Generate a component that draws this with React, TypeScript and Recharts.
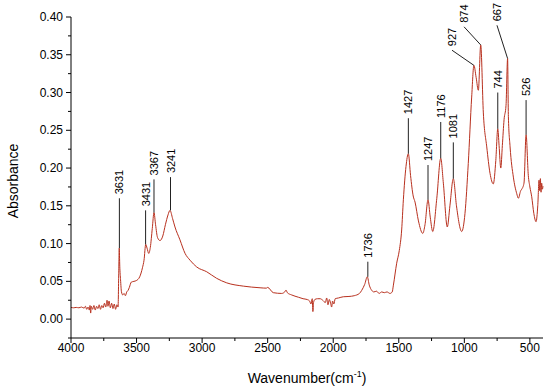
import React from 'react'
import { LineChart, Line, XAxis, YAxis, ReferenceLine, ReferenceDot, Label } from 'recharts'

// spectrum (wavenumber, absorbance)
const wavenumbers = [
  4000, 3980, 3960, 3940, 3920, 3900, 3890, 3880, 3870, 3860, 3855, 3850, 3845, 3835, 3825, 3815,
  3805, 3795, 3785, 3775, 3765, 3755, 3745, 3735, 3725, 3718, 3710, 3700, 3690, 3680, 3670, 3660,
  3650, 3641, 3636, 3632, 3628, 3622, 3615, 3605, 3595, 3585, 3575, 3565, 3555, 3540, 3520, 3502,
  3476, 3455, 3443, 3430, 3420, 3407, 3395, 3380, 3367, 3355, 3340, 3321, 3300, 3280, 3260, 3245,
  3225, 3207, 3169, 3130, 3092, 3041, 2965, 2889, 2812, 2686, 2558, 2510, 2500, 2457, 2393, 2370,
  2360, 2350, 2317, 2266, 2230, 2200, 2180, 2170, 2160, 2155, 2150, 2140, 2120, 2100, 2080, 2060,
  2050, 2040, 2030, 2020, 2012, 2005, 1995, 1985, 1960, 1923, 1880, 1840, 1800, 1783, 1760, 1740,
  1725, 1706, 1690, 1670, 1650, 1630, 1610, 1590, 1567, 1550, 1541, 1516, 1496, 1478, 1465, 1445,
  1427, 1410, 1390, 1376, 1350, 1317, 1300, 1277, 1260, 1241, 1210, 1180, 1160, 1130, 1110, 1084,
  1060, 1020, 995, 970, 944, 927, 910, 893, 875, 855, 829, 804, 779, 760, 745, 735,
  722, 710, 697, 682, 670, 664, 651, 626, 600, 588, 570, 562, 545, 529, 512, 500,
  486, 470, 453, 440, 430, 425, 420, 415, 410, 405, 400,
]
const absorbance = [
  0.0155, 0.015, 0.0155, 0.015, 0.016, 0.0145, 0.017, 0.013, 0.016, 0.012, 0.018, 0.008, 0.017, 0.013, 0.018, 0.012,
  0.017, 0.014, 0.019, 0.013, 0.018, 0.015, 0.021, 0.016, 0.025, 0.017, 0.024, 0.015, 0.021, 0.014, 0.02, 0.013,
  0.019, 0.016, 0.06, 0.094, 0.07, 0.052, 0.036, 0.032, 0.034, 0.031, 0.036, 0.038, 0.042, 0.049, 0.05, 0.051,
  0.056, 0.068, 0.078, 0.099, 0.094, 0.087, 0.095, 0.12, 0.141, 0.125, 0.108, 0.104, 0.11, 0.125, 0.138, 0.144,
  0.133, 0.122, 0.105, 0.087, 0.078, 0.069, 0.0627, 0.054, 0.048, 0.0437, 0.0415, 0.041, 0.042, 0.035, 0.034, 0.036,
  0.0384, 0.035, 0.032, 0.029, 0.027, 0.026, 0.024, 0.02, 0.027, 0.01, 0.022, 0.026, 0.027, 0.027, 0.025, 0.022,
  0.028, 0.019, 0.026, 0.021, 0.016, 0.024, 0.02, 0.027, 0.028, 0.0296, 0.03, 0.031, 0.034, 0.038, 0.046, 0.056,
  0.045, 0.038, 0.036, 0.037, 0.034, 0.036, 0.035, 0.036, 0.034, 0.036, 0.045, 0.074, 0.091, 0.118, 0.158, 0.202,
  0.219, 0.19, 0.163, 0.155, 0.13, 0.1135, 0.125, 0.158, 0.135, 0.116, 0.16, 0.213, 0.18, 0.122, 0.15, 0.186,
  0.15, 0.116, 0.14, 0.206, 0.294, 0.336, 0.32, 0.303, 0.363, 0.273, 0.228, 0.193, 0.179, 0.21, 0.252, 0.23,
  0.2, 0.23, 0.264, 0.283, 0.345, 0.268, 0.228, 0.188, 0.166, 0.16, 0.17, 0.172, 0.18, 0.244, 0.19, 0.175,
  0.162, 0.14, 0.129, 0.15, 0.184, 0.17, 0.186, 0.168, 0.18, 0.172, 0.176,
]

// peak annotations
const peakLabels = ['3631', '3431', '3367', '3241', '1736', '1427', '1247', '1176', '1081', '927', '874', '744', '667', '526']
const peakX = [3631, 3431, 3367, 3241, 1736, 1427, 1277, 1180, 1084, 927, 875, 745, 670, 529]
const peakY = [0.094, 0.099, 0.141, 0.144, 0.056, 0.219, 0.158, 0.213, 0.186, 0.336, 0.363, 0.252, 0.345, 0.244]
const labelX = [3631, 3431, 3367, 3241, 1736, 1427, 1277, 1180, 1084, 1094, 1002, 745, 751, 529]
const labelY = [0.16, 0.144, 0.185, 0.188, 0.076, 0.266, 0.204, 0.261, 0.234, 0.356, 0.387, 0.3, 0.389, 0.29]

const xTicks = [4000, 3750, 3500, 3250, 3000, 2750, 2500, 2250, 2000, 1750, 1500, 1250, 1000, 750, 500]
const yTicks = [-0.025, 0, 0.025, 0.05, 0.075, 0.1, 0.125, 0.15, 0.175, 0.2, 0.225, 0.25, 0.275, 0.3, 0.325, 0.35, 0.375, 0.4]

const data = wavenumbers.map((w, i) => ({ w, a: absorbance[i] }))
const FONT = 'Arial, "Liberation Sans", sans-serif'

function XTick(props: any) {
  const { x, y, payload } = props
  const major = payload.value % 500 === 0
  return (
    <g>
      <line x1={x} y1={y} x2={x} y2={y + (major ? 5 : 3)} stroke="#000" />
      {major && (
        <text x={x} y={y + 14} textAnchor="middle" fontSize={12} fontFamily={FONT} fill="#000">
          {payload.value}
        </text>
      )}
    </g>
  )
}

function YTick(props: any) {
  const { x, y, payload } = props
  const v = Math.round(payload.value * 1000)
  const major = v >= 0 && v % 50 === 0
  return (
    <g>
      <line x1={x} y1={y} x2={x - (major ? 5 : 3)} y2={y} stroke="#000" />
      {major && (
        <text x={x - 8} y={y + 4} textAnchor="end" fontSize={12} fontFamily={FONT} fill="#000">
          {payload.value.toFixed(2)}
        </text>
      )}
    </g>
  )
}

export default function App() {
  return (
    <div style={{ position: 'absolute', left: 0, top: 0, background: '#fff' }}>
      <LineChart width={550} height={390} data={data} margin={{ top: 17, right: 7, left: 0, bottom: 0 }}>
        <XAxis
          dataKey="w"
          type="number"
          domain={[400, 4000]}
          reversed
          ticks={xTicks}
          interval={0}
          tick={<XTick />}
          tickLine={false}
          tickSize={0}
          tickMargin={0}
          height={52}
          axisLine={{ stroke: '#000' }}
        >
          <Label
            content={(p: any) => {
              const vb = p.viewBox
              return (
                <text x={vb.x + vb.width / 2} y={383} textAnchor="middle" fontSize={14} fontFamily={FONT} fill="#000">
                  Wavenumber(cm
                  <tspan fontSize={9} dy={-6}>-1</tspan>
                  <tspan dy={6}>)</tspan>
                </text>
              )
            }}
          />
        </XAxis>
        <YAxis
          type="number"
          domain={[-0.025, 0.4]}
          ticks={yTicks}
          interval={0}
          tick={<YTick />}
          tickLine={false}
          tickSize={0}
          tickMargin={0}
          width={71}
          axisLine={{ stroke: '#000' }}
        >
          <Label
            content={() => (
              <text
                transform="translate(18,181) rotate(-90)"
                textAnchor="middle"
                fontSize={14}
                fontFamily={FONT}
                fill="#000"
              >
                Absorbance
              </text>
            )}
          />
        </YAxis>
        <Line
          type="monotone"
          dataKey="a"
          stroke="#b8301e"
          strokeWidth={1}
          dot={false}
          isAnimationActive={false}
        />
        {peakLabels.map((lab, i) => (
          <ReferenceLine
            key={'l' + lab}
            segment={[
              { x: peakX[i], y: peakY[i] },
              { x: labelX[i], y: labelY[i] },
            ]}
            stroke="#222"
            strokeWidth={1}
            ifOverflow="visible"
          />
        ))}
        {peakLabels.map((lab, i) => (
          <ReferenceDot
            key={'t' + lab}
            x={labelX[i]}
            y={labelY[i]}
            ifOverflow="visible"
            shape={(p: any) => (
              <text
                transform={`translate(${p.cx + 4},${p.cy - 4}) rotate(-90)`}
                textAnchor="start"
                fontSize={11}
                fontFamily={FONT}
                fill="#000"
              >
                {lab}
              </text>
            )}
          />
        ))}
      </LineChart>
    </div>
  )
}
